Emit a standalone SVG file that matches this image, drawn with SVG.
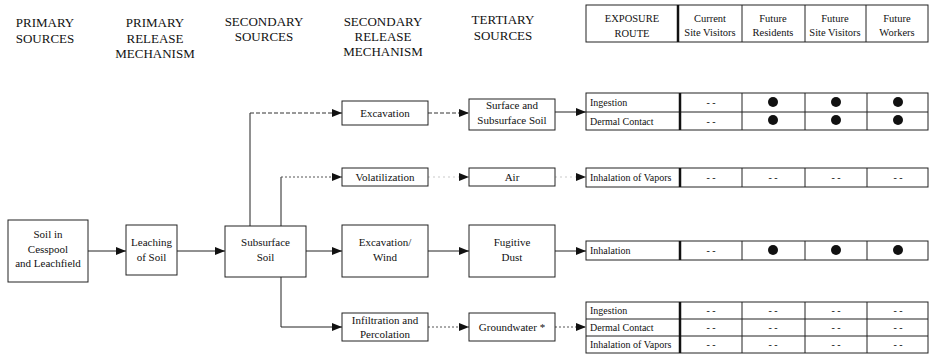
<svg xmlns="http://www.w3.org/2000/svg" width="929" height="356" viewBox="0 0 929 356">
<defs>
<style>
text{font-family:"Liberation Serif","Times New Roman",serif;fill:#111;text-anchor:middle}
.h{font-size:13px}
.n{font-size:11px}
.t{font-size:10.5px}
.r{font-size:10px;text-anchor:start}
.d{font-size:10px}
.box{fill:#fff;stroke:#222;stroke-width:1}
.thk{stroke:#111;stroke-width:2.5}
.ln{fill:none;stroke:#222;stroke-width:1}
.ds{fill:none;stroke:#333;stroke-width:1;stroke-dasharray:4 2}
.dt{fill:none;stroke:#555;stroke-width:1;stroke-dasharray:2 2}
.fa{fill:none;stroke:#bbb;stroke-width:0.8;stroke-dasharray:2 3}
.dot{fill:#111}
</style>
<marker id="ah" viewBox="0 0 10 8" refX="10" refY="4" markerWidth="10" markerHeight="8" markerUnits="userSpaceOnUse" orient="auto">
<path d="M0,0 L10,4 L0,8 Z" fill="#111"/>
</marker>
</defs>
<rect width="929" height="356" fill="#fff"/>

<g id="headers">
<text class="h" x="45" y="27">PRIMARY</text>
<text class="h" x="45" y="43">SOURCES</text>
<text class="h" x="155" y="27">PRIMARY</text>
<text class="h" x="155" y="43">RELEASE</text>
<text class="h" x="155" y="58">MECHANISM</text>
<text class="h" x="264" y="26">SECONDARY</text>
<text class="h" x="264" y="41">SOURCES</text>
<text class="h" x="383" y="26">SECONDARY</text>
<text class="h" x="383" y="41">RELEASE</text>
<text class="h" x="383" y="56">MECHANISM</text>
<text class="h" x="503" y="24">TERTIARY</text>
<text class="h" x="503" y="40">SOURCES</text>
</g>

<g id="header-table">
<rect class="box" x="586" y="5" width="342" height="37"/>
<line class="thk" x1="678" y1="5" x2="678" y2="42"/>
<line class="ln" x1="742" y1="5" x2="742" y2="42"/>
<line class="ln" x1="805" y1="5" x2="805" y2="42"/>
<line class="ln" x1="866" y1="5" x2="866" y2="42"/>
<text class="t" x="632" y="22">EXPOSURE</text>
<text class="t" x="632" y="37">ROUTE</text>
<text class="t" x="710" y="22">Current</text>
<text class="t" x="710" y="36">Site Visitors</text>
<text class="t" x="773" y="22">Future</text>
<text class="t" x="773" y="36">Residents</text>
<text class="t" x="835" y="22">Future</text>
<text class="t" x="835" y="36">Site Visitors</text>
<text class="t" x="897" y="22">Future</text>
<text class="t" x="897" y="36">Workers</text>
</g>

<g id="connectors">
<line class="ln" x1="88" y1="251" x2="126" y2="251" marker-end="url(#ah)"/>
<line class="ln" x1="177" y1="251" x2="225" y2="251" marker-end="url(#ah)"/>
<polyline class="ln" points="250,226 250,113"/>
<line class="ds" x1="250" y1="113" x2="342" y2="113" marker-end="url(#ah)"/>
<polyline class="ln" points="281,226 281,177"/>
<line class="dt" x1="281" y1="177" x2="342" y2="177" marker-end="url(#ah)"/>
<line class="ln" x1="306" y1="251" x2="342" y2="251" marker-end="url(#ah)"/>
<polyline class="ln" points="281,277 281,327 342,327" marker-end="url(#ah)"/>
<line class="ds" x1="428" y1="113" x2="469" y2="113" marker-end="url(#ah)"/>
<line class="fa" x1="428" y1="177" x2="469" y2="177" marker-end="url(#ah)"/>
<line class="ln" x1="428" y1="251" x2="469" y2="251" marker-end="url(#ah)"/>
<line class="dt" x1="428" y1="327" x2="469" y2="327" marker-end="url(#ah)"/>
<line class="ln" x1="555" y1="112" x2="586" y2="112" marker-end="url(#ah)"/>
<line class="fa" x1="555" y1="177" x2="586" y2="177" marker-end="url(#ah)"/>
<line class="ln" x1="555" y1="251" x2="586" y2="251" marker-end="url(#ah)"/>
<line class="dt" x1="555" y1="327" x2="586" y2="327" marker-end="url(#ah)"/>
</g>

<g id="soil-cesspool">
<rect class="box" x="8" y="220" width="80" height="62"/>
<text class="n" x="48" y="238">Soil in</text>
<text class="n" x="48" y="253">Cesspool</text>
<text class="n" x="48" y="267">and Leachfield</text>
</g>
<g id="leaching">
<rect class="box" x="126" y="225" width="51" height="50"/>
<text class="n" x="151.5" y="246">Leaching</text>
<text class="n" x="151.5" y="261">of Soil</text>
</g>
<g id="subsurface-soil">
<rect class="box" x="225" y="226" width="81" height="51"/>
<text class="n" x="265.5" y="246">Subsurface</text>
<text class="n" x="265.5" y="261">Soil</text>
</g>
<g id="excavation">
<rect class="box" x="342" y="101" width="86" height="24"/>
<text class="n" x="385" y="117">Excavation</text>
</g>
<g id="volatilization">
<rect class="box" x="342" y="168" width="86" height="18"/>
<text class="n" x="385" y="181">Volatilization</text>
</g>
<g id="excavation-wind">
<rect class="box" x="342" y="225" width="86" height="52"/>
<text class="n" x="385" y="246">Excavation/</text>
<text class="n" x="385" y="261">Wind</text>
</g>
<g id="infiltration">
<rect class="box" x="342" y="313" width="86" height="28"/>
<text class="n" x="385" y="324">Infiltration and</text>
<text class="n" x="385" y="338">Percolation</text>
</g>
<g id="surface-soil">
<rect class="box" x="469" y="99" width="86" height="31"/>
<text class="n" x="512" y="109">Surface and</text>
<text class="n" x="512" y="124">Subsurface Soil</text>
</g>
<g id="air">
<rect class="box" x="469" y="168" width="86" height="18"/>
<text class="n" x="512" y="181">Air</text>
</g>
<g id="fugitive-dust">
<rect class="box" x="469" y="225" width="86" height="52"/>
<text class="n" x="512" y="246">Fugitive</text>
<text class="n" x="512" y="261">Dust</text>
</g>
<g id="groundwater">
<rect class="box" x="469" y="313" width="86" height="28"/>
<text class="n" x="512" y="331">Groundwater *</text>
</g>

<g id="route-soil">
<rect class="box" x="586" y="93" width="342" height="37"/>
<line class="ln" x1="586" y1="112" x2="928" y2="112"/>
<line class="thk" x1="680" y1="93" x2="680" y2="130"/>
<line class="ln" x1="742" y1="93" x2="742" y2="130"/>
<line class="ln" x1="805" y1="93" x2="805" y2="130"/>
<line class="ln" x1="867" y1="93" x2="867" y2="130"/>
<text class="r" x="590" y="106">Ingestion</text>
<text class="r" x="590" y="125">Dermal Contact</text>
<text class="d" x="711" y="106">- -</text>
<text class="d" x="711" y="125">- -</text>
<circle class="dot" cx="773" cy="102" r="5"/>
<circle class="dot" cx="773" cy="120" r="5"/>
<circle class="dot" cx="836" cy="102" r="5"/>
<circle class="dot" cx="836" cy="120" r="5"/>
<circle class="dot" cx="898" cy="102" r="5"/>
<circle class="dot" cx="898" cy="120" r="5"/>
</g>

<g id="route-air">
<rect class="box" x="586" y="168" width="342" height="19"/>
<line class="thk" x1="680" y1="168" x2="680" y2="187"/>
<line class="ln" x1="742" y1="168" x2="742" y2="187"/>
<line class="ln" x1="805" y1="168" x2="805" y2="187"/>
<line class="ln" x1="867" y1="168" x2="867" y2="187"/>
<text class="r" x="590" y="181">Inhalation of Vapors</text>
<text class="d" x="711" y="181">- -</text>
<text class="d" x="773" y="181">- -</text>
<text class="d" x="836" y="181">- -</text>
<text class="d" x="898" y="181">- -</text>
</g>

<g id="route-dust">
<rect class="box" x="586" y="241" width="342" height="19"/>
<line class="thk" x1="680" y1="241" x2="680" y2="260"/>
<line class="ln" x1="742" y1="241" x2="742" y2="260"/>
<line class="ln" x1="805" y1="241" x2="805" y2="260"/>
<line class="ln" x1="867" y1="241" x2="867" y2="260"/>
<text class="r" x="590" y="254">Inhalation</text>
<text class="d" x="711" y="254">- -</text>
<circle class="dot" cx="773" cy="250" r="5"/>
<circle class="dot" cx="836" cy="250" r="5"/>
<circle class="dot" cx="898" cy="250" r="5"/>
</g>

<g id="route-groundwater">
<rect class="box" x="586" y="302" width="342" height="51"/>
<line class="ln" x1="586" y1="319" x2="928" y2="319"/>
<line class="ln" x1="586" y1="336" x2="928" y2="336"/>
<line class="thk" x1="680" y1="302" x2="680" y2="353"/>
<line class="ln" x1="742" y1="302" x2="742" y2="353"/>
<line class="ln" x1="805" y1="302" x2="805" y2="353"/>
<line class="ln" x1="867" y1="302" x2="867" y2="353"/>
<text class="r" x="590" y="314">Ingestion</text>
<text class="r" x="590" y="331">Dermal Contact</text>
<text class="r" x="590" y="348">Inhalation of Vapors</text>
<text class="d" x="711" y="314">- -</text>
<text class="d" x="711" y="331">- -</text>
<text class="d" x="711" y="348">- -</text>
<text class="d" x="773" y="314">- -</text>
<text class="d" x="773" y="331">- -</text>
<text class="d" x="773" y="348">- -</text>
<text class="d" x="836" y="314">- -</text>
<text class="d" x="836" y="331">- -</text>
<text class="d" x="836" y="348">- -</text>
<text class="d" x="898" y="314">- -</text>
<text class="d" x="898" y="331">- -</text>
<text class="d" x="898" y="348">- -</text>
</g>
</svg>
